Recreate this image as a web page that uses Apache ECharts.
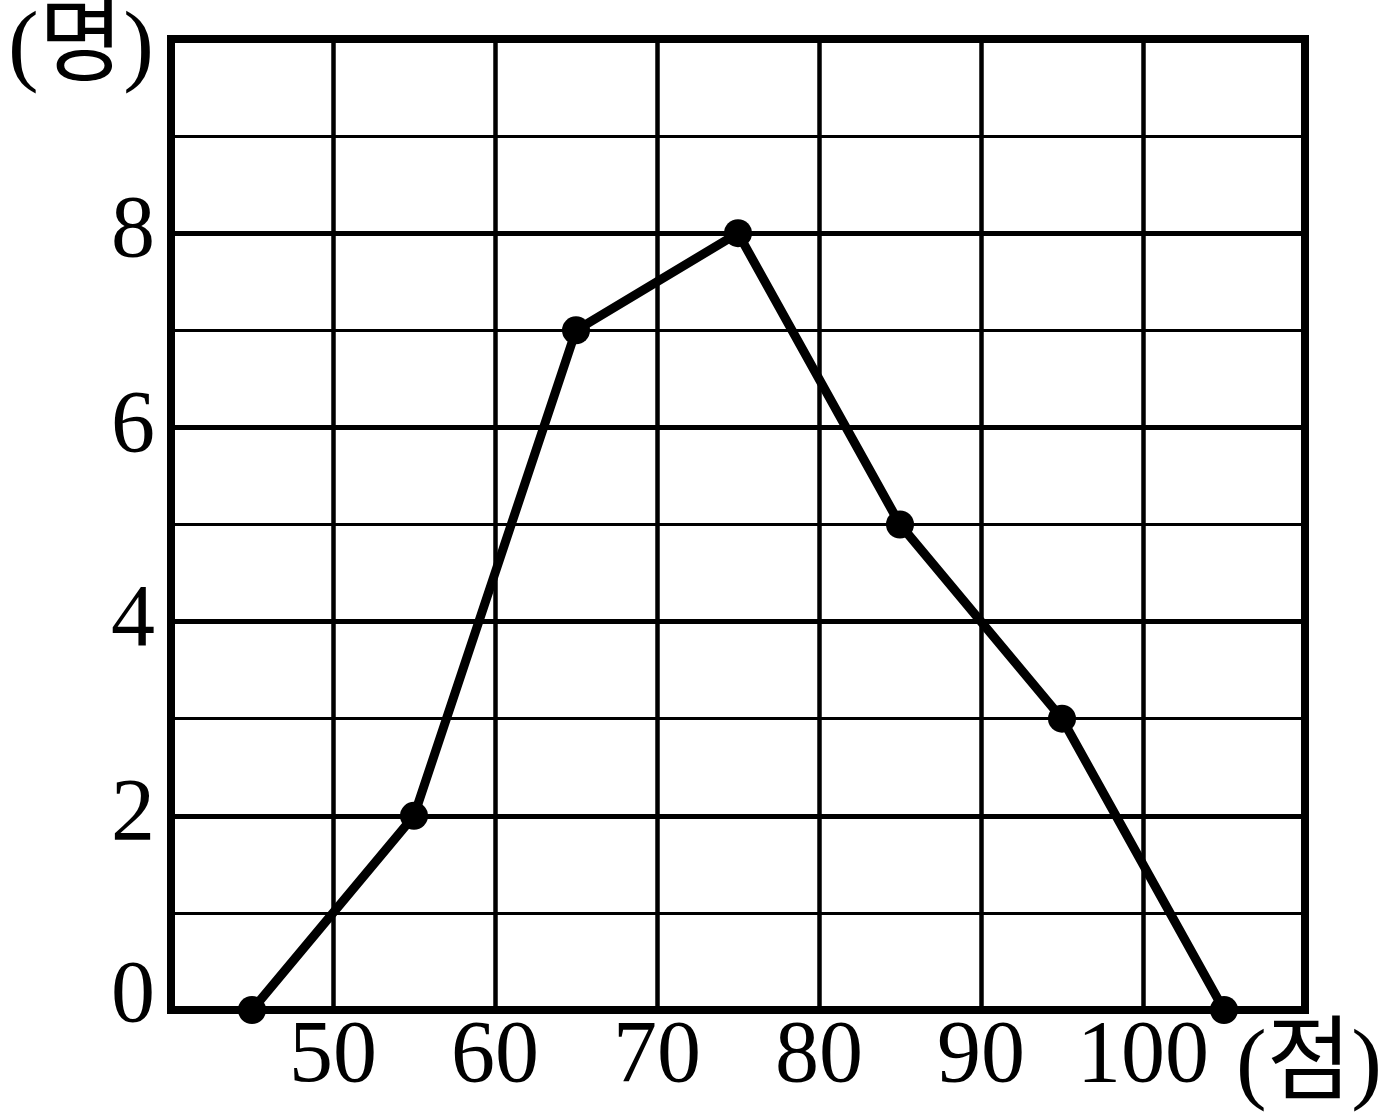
<!DOCTYPE html>
<html><head><meta charset="utf-8">
<script src="https://cdn.jsdelivr.net/npm/echarts@6/dist/echarts.min.js"></script>
<style>html,body{margin:0;padding:0;background:#fff}#c{width:1388px;height:1118px}</style>
</head><body><div id="c"></div>
<script>
const scores = [45, 55, 65, 75, 85, 95, 105];
const counts = [0, 2, 7, 8, 5, 3, 0];
const xTickLabels = [50, 60, 70, 80, 90, 100];
const yTickLabels = [0, 2, 4, 6, 8];
const yUnit = '(명)';
const xUnit = '(점)';

const serif = '"Liberation Serif", "Noto Sans CJK KR", serif';
const chart = echarts.init(document.getElementById('c'));
chart.setOption({
  animation: false,
  backgroundColor: '#fff',
  grid: {left: 171, right: 83, top: 39, bottom: 108, show: true, borderColor: '#000', borderWidth: 8, backgroundColor: 'transparent'},
  xAxis: {
    type: 'value', min: 40, max: 110, interval: 10,
    axisLine: {show: false}, axisTick: {show: false},
    splitLine: {show: true, lineStyle: {color: '#000', width: 4.5}},
    axisLabel: {
      margin: 4, color: '#000', fontFamily: serif, fontSize: 88,
      formatter: v => xTickLabels.includes(v) ? String(v) : ''
    }
  },
  yAxis: [{
    type: 'value', min: 0, max: 10, interval: 1,
    axisLine: {show: false}, axisTick: {show: false},
    splitLine: {show: true, lineStyle: {color: '#000', width: 3}},
    axisLabel: {
      margin: 16, color: '#000', fontFamily: serif, fontSize: 88,
      formatter: v => yTickLabels.includes(v) ? (v === 0 ? '{z|0}' : String(v)) : '',
      rich: {z: {fontFamily: serif, fontSize: 88, color: '#000', padding: [0, 0, 24, 0]}}
    }
  }, {
    type: 'value', min: 0, max: 10, interval: 2, position: 'left',
    axisLine: {show: false}, axisTick: {show: false}, axisLabel: {show: false},
    splitLine: {show: true, lineStyle: {color: '#000', width: 5}}
  }],
  graphic: [
    {type: 'text', left: 8, top: 4, style: {text: yUnit, font: '92px ' + serif, fill: '#000'}},
    {type: 'text', left: 1236, top: 1022, style: {text: xUnit, font: '92px ' + serif, fill: '#000'}}
  ],
  series: [{
    type: 'line', clip: false,
    data: scores.map((s, i) => [s, counts[i]]),
    lineStyle: {color: '#000', width: 9},
    itemStyle: {color: '#000'},
    symbol: 'circle', symbolSize: 28, showSymbol: true,
    z: 10
  }]
});
</script></body></html>
